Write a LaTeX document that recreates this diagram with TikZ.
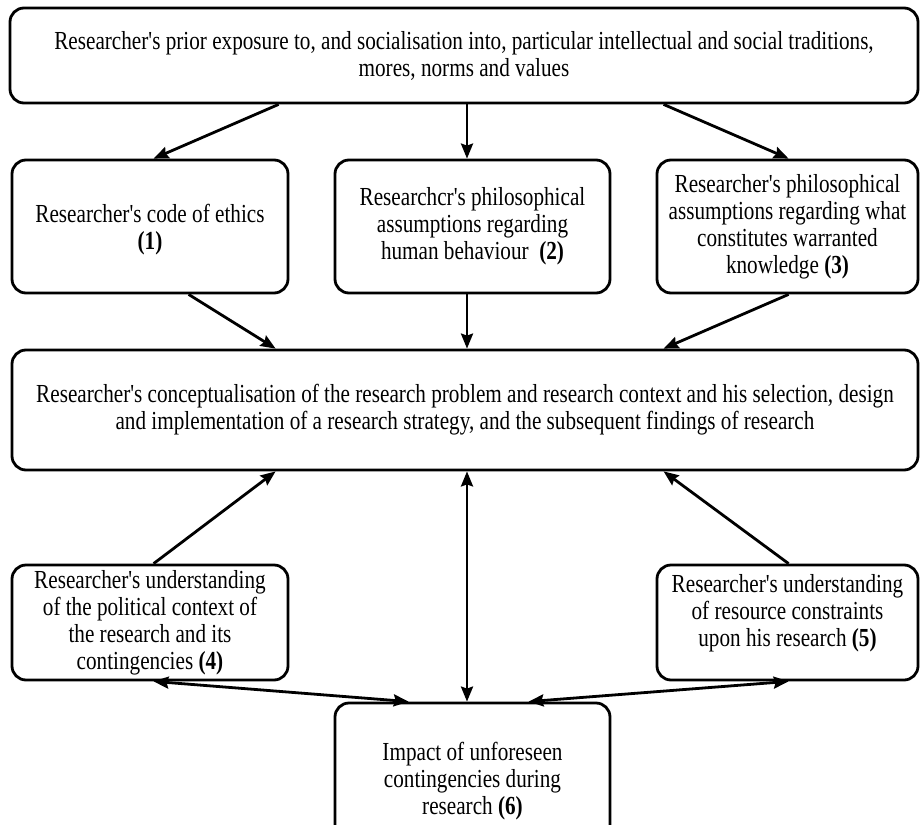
\documentclass[tikz,border=0pt]{standalone}
\usepackage{fontspec}
\setmainfont[FakeStretch=0.815,Ligatures=TeXOff]{Liberation Serif}
\usetikzlibrary{arrows.meta}
\begin{document}
\begin{tikzpicture}[x=1pt,y=-1pt,
  box/.style={draw, line width=2.8pt, rounded corners=14pt, inner sep=0pt, align=center,
    font=\fontsize{26}{27}\selectfont},
  txt/.style={inner sep=0pt, align=center, font=\fontsize{26}{27}\selectfont},
  conn/.style={line width=2.8pt, -{Stealth[length=15pt,width=12pt,inset=2pt]}},
  bconn/.style={line width=2.8pt, {Stealth[length=15pt,width=12pt,inset=2pt]}-{Stealth[length=15pt,width=12pt,inset=2pt]}}]
\useasboundingbox (0,0) rectangle (922,825);
\clip (0,0) rectangle (922,825);
\node[box, minimum width=908pt, minimum height=95pt] (top) at (464,55.5)
  {Researcher's prior exposure to, and socialisation into, particular intellectual and social traditions,\\mores, norms and values};
\node[box, minimum width=276pt, minimum height=133pt] (b1) at (150,226.5) {};
\node[txt] (t1) at ([yshift=-3pt]b1.center)
  {Researcher's code of ethics\\\textbf{(1)}};
\node[box, minimum width=275pt, minimum height=133pt] (b2) at (472.5,226.5)
  {Researchcr's philosophical\\assumptions regarding\\human behaviour\ \ \textbf{(2)}};
\node[box, minimum width=261pt, minimum height=133pt] (b3) at (787.5,226.5)
  {Researcher's philosophical\\assumptions regarding what\\constitutes warranted\\knowledge \textbf{(3)}};
\node[box, minimum width=906pt, minimum height=120pt] (mid) at (465,410)
  {Researcher's conceptualisation of the research problem and research context and his selection, design\\and implementation of a research strategy, and the subsequent findings of research};
\node[box, minimum width=276pt, minimum height=115pt] (b4) at (150,622.5)
  {Researcher's understanding\\of the political context of\\the research and its\\contingencies \textbf{(4)}};
\node[box, minimum width=261pt, minimum height=115pt] (b5) at (787.5,622.5) {};
\node[txt] (t5) at ([yshift=9pt]b5.center)
  {Researcher's understanding\\of resource constraints\\upon his research \textbf{(5)}};
\node[box, minimum width=275pt, minimum height=157pt] (b6) at (472.5,781.5)
  {Impact of unforeseen\\contingencies during\\research \textbf{(6)}};
% connectors
\draw[conn] ([xshift=270pt]top.south west) -- ([xshift=143pt]b1.north west);
\draw[conn] ([xshift=-5.5pt]top.south -| b2.north) -- ([xshift=-5.5pt]b2.north);
\draw[conn] ([xshift=655pt]top.south west) -- ([xshift=133pt]b3.north west);
\draw[conn] ([xshift=178pt]b1.south west) -- ([xshift=265pt]mid.north west);
\draw[conn] ([xshift=-5.5pt]b2.south) -- ([xshift=-5.5pt]mid.north -| b2.south);
\draw[conn] ([xshift=133pt]b3.south west) -- ([xshift=653pt]mid.north west);
\draw[conn] ([xshift=143pt]b4.north west) -- ([xshift=265pt]mid.south west);
\draw[conn] ([xshift=133pt]b5.north west) -- ([xshift=653pt]mid.south west);
\draw[bconn] ([xshift=-5.5pt]mid.south -| b6.north) -- ([xshift=-5.5pt]b6.north);
\draw[bconn] ([xshift=143pt]b4.south west) -- ([xshift=75pt]b6.north west);
\draw[bconn] ([xshift=133pt]b5.south west) -- ([xshift=195pt]b6.north west);
\end{tikzpicture}
\end{document}
